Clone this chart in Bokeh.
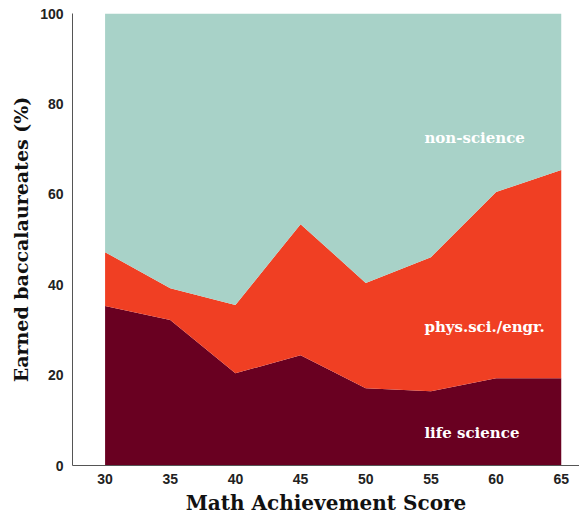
from bokeh.plotting import figure
from bokeh.models import ColumnDataSource, FixedTicker, Range1d
from bokeh.core.properties import value
from bokeh.embed import file_html
from bokeh.resources import INLINE

# Data
math_score = [30, 35, 40, 45, 50, 55, 60, 65]
life_science = [35.3, 32.2, 20.4, 24.4, 17.1, 16.4, 19.3, 19.3]
phys_sci_engr = [11.9, 7.0, 15.1, 29.0, 23.3, 29.7, 41.2, 46.1]
non_science = [52.8, 60.8, 64.5, 46.6, 59.6, 53.9, 39.5, 34.6]
series_names = ["life science", "phys.sci./engr.", "non-science"]
series_colors = ["#690021", "#F03F23", "#A8D2C8"]
label_x = [54.5, 54.5, 54.5]
label_y = [7.1, 30.6, 72.5]
x_ticks = [30, 35, 40, 45, 50, 55, 60, 65]
y_ticks = [0, 20, 40, 60, 80, 100]

source = ColumnDataSource(dict(x=math_score, life=life_science,
                               phys=phys_sci_engr, non=non_science))

p = figure(width=579, height=517, output_backend="svg", toolbar_location=None,
           x_range=Range1d(27.5, 66.4), y_range=Range1d(0, 100),
           min_border_left=72, min_border_right=0, min_border_top=13,
           min_border_bottom=52)

p.varea_stack(stackers=["life", "phys", "non"], x="x", color=series_colors,
              source=source)

p.text(x=label_x, y=label_y, text=series_names, text_color="white",
       text_font=value("DejaVu Serif"), text_font_style="bold",
       text_font_size="15px", text_baseline="middle", text_align="left")

p.xgrid.visible = False
p.ygrid.visible = False
p.outline_line_color = None

p.xaxis.ticker = FixedTicker(ticks=x_ticks)
p.yaxis.ticker = FixedTicker(ticks=y_ticks)
for ax in (p.xaxis[0], p.yaxis[0]):
    ax.major_tick_line_color = None
    ax.minor_tick_line_color = None
    ax.major_tick_out = 0
    ax.major_tick_in = 0
    ax.minor_tick_out = 0
    ax.minor_tick_in = 0
    ax.axis_line_color = "#555555"
    ax.axis_line_width = 1
    ax.major_label_text_font = "Liberation Sans"
    ax.major_label_text_font_style = "bold"
    ax.major_label_text_font_size = "14px"
    ax.major_label_text_color = "#222222"
    ax.axis_label_text_font = "DejaVu Serif"
    ax.axis_label_text_font_style = "bold"
    ax.axis_label_text_color = "#111111"

p.xaxis.axis_label_text_font_size = "20px"
p.yaxis.axis_label_text_font_size = "19px"
p.xaxis.axis_label = "Math Achievement Score"
p.yaxis.axis_label = "Earned baccalaureates (%)"
p.xaxis.major_label_standoff = 8
p.yaxis.major_label_standoff = 9
p.xaxis.axis_label_standoff = 4
p.yaxis.axis_label_standoff = 5

open("out.html", "w").write(file_html(p, INLINE))
